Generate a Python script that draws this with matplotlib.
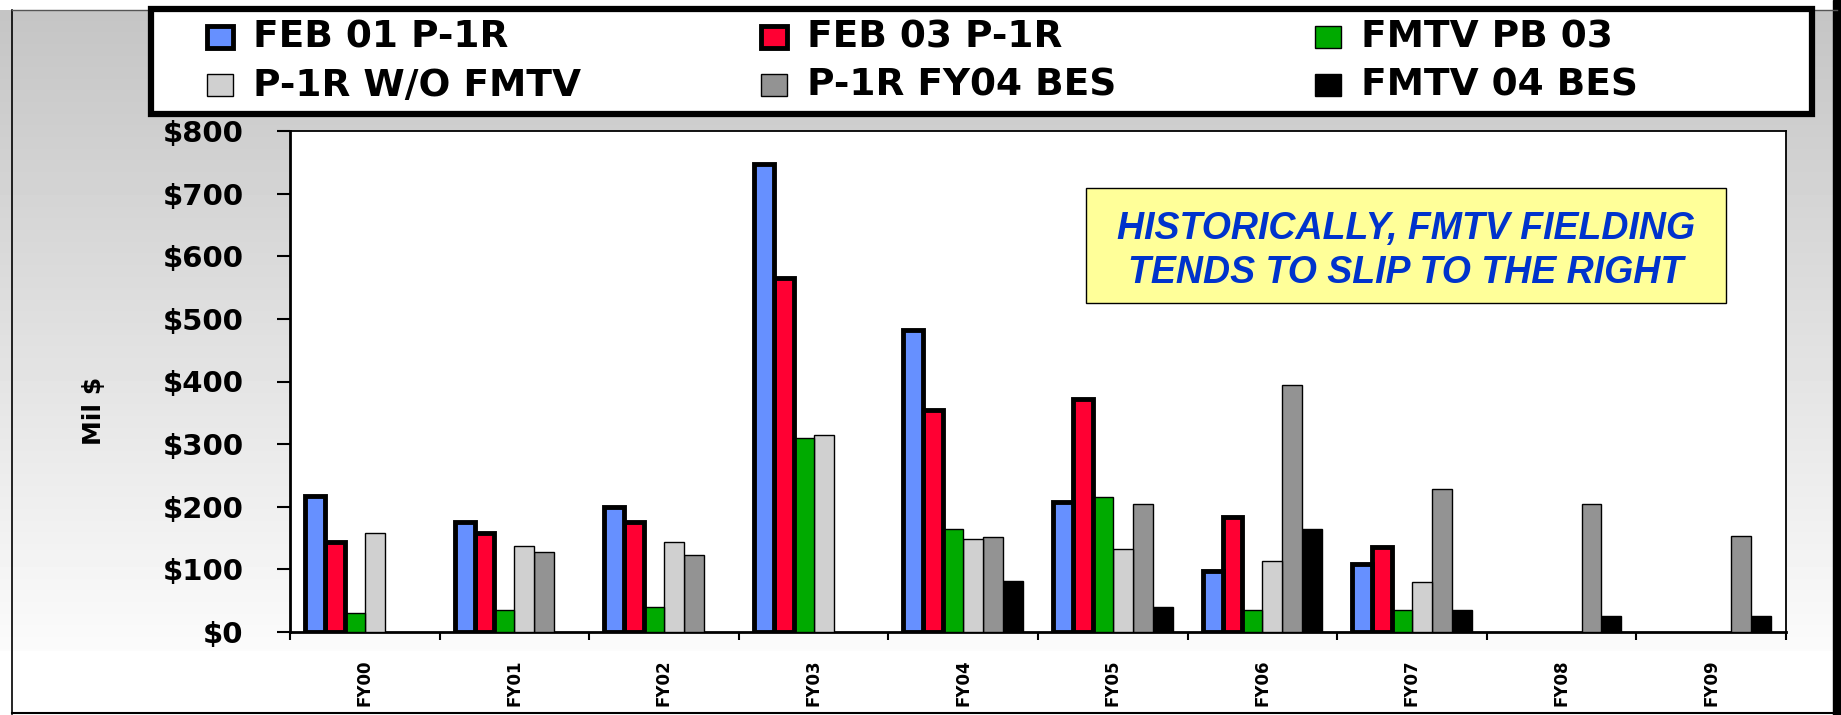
import numpy as np
import matplotlib
matplotlib.use("Agg")
import matplotlib.pyplot as plt
from matplotlib.patches import Rectangle

# data ($ millions); nan = no bar drawn
nan = np.nan
years = ["FY00", "FY01", "FY02", "FY03", "FY04", "FY05", "FY06", "FY07", "FY08", "FY09"]
series_names = ["FEB 01 P-1R", "FEB 03 P-1R", "FMTV PB 03",
                "P-1R W/O FMTV", "P-1R FY04 BES", "FMTV 04 BES"]
feb01_p1r = [217, 175, 200, 748, 482, 207, 98, 108, nan, nan]
feb03_p1r = [143, 158, 175, 565, 355, 372, 183, 135, nan, nan]
fmtv_pb03 = [30, 35, 40, 310, 165, 215, 35, 35, nan, nan]
p1r_wo_fmtv = [158, 138, 143, 315, 148, 132, 113, 80, nan, nan]
p1r_fy04_bes = [nan, 127, 123, nan, 152, 205, 395, 228, 205, 153]
fmtv04_bes = [nan, nan, nan, nan, 82, 40, 165, 35, 25, 25]
y_ticks = [0, 100, 200, 300, 400, 500, 600, 700, 800]

colors = ["#6690FF", "#FF0033", "#00AA00", "#D0D0D0", "#939393", "#000000"]
edge_w = [3.5, 3.5, 1.0, 1.0, 1.0, 1.0]
all_series = [feb01_p1r, feb03_p1r, fmtv_pb03, p1r_wo_fmtv, p1r_fy04_bes, fmtv04_bes]

W, H = 1841, 715
fig = plt.figure(figsize=(W / 100, H / 100), dpi=100)

def fx(px):
    return px / W

def fy(py):
    return 1 - py / H

# gray-to-white background
bg = fig.add_axes([0, 0, 1, 1], zorder=-10)
grad = np.linspace(0.77, 0.985, 641)
col = np.concatenate([np.full(10, 1.0), grad, np.ones(H - 641 - 10)])
bg.imshow(np.repeat(col[:, None], 4, axis=1), cmap="gray", vmin=0, vmax=1,
          aspect="auto", extent=[0, 1, 0, 1])
bg.set_axis_off()

# outer frame
fig.add_artist(plt.Line2D([fx(12), fx(12)], [fy(10), fy(714)], color="black", lw=1.2))
fig.add_artist(plt.Line2D([fx(12), fx(1837)], [fy(10), fy(10)], color="#555555", lw=1))
fig.add_artist(plt.Line2D([fx(12), fx(1837)], [fy(713), fy(713)], color="black", lw=1.5))
fig.add_artist(Rectangle((fx(1833), 0), fx(8), 1, color="black"))

# main axes
ax = fig.add_axes([fx(290), fy(632), fx(1786) - fx(290), fy(131) - fy(632)])
ax.set_facecolor("white")

x = np.arange(len(years))
w = 0.8 / 6
for j, vals in enumerate(all_series):
    ax.bar(x + (j - 2.5) * w, vals, width=w, color=colors[j],
           edgecolor="black", linewidth=edge_w[j], zorder=10 - j)

ax.set_xlim(-0.5, len(years) - 0.5)
ax.set_ylim(0, 800)
ax.set_yticks(y_ticks)
ax.set_yticklabels([f"${v}" for v in y_ticks], fontsize=21, fontweight="bold")
ax.tick_params(axis="y", direction="out", length=9.5, width=1.5, pad=24)

ax.set_xticks(np.arange(len(years) + 1) - 0.5)
ax.set_xticklabels([])
ax.tick_params(axis="x", which="major", direction="out", length=6, width=1.5)
ax.set_xticks(x, minor=True)
ax.set_xticklabels(years, minor=True, rotation=90, fontsize=12, fontweight="bold")
ax.tick_params(axis="x", which="minor", length=0, pad=20)

for side in ["left", "bottom"]:
    ax.spines[side].set_linewidth(2)
for side in ["top", "right"]:
    ax.spines[side].set_linewidth(1.3)

fig.text(fx(94), fy(411), "Mil $", rotation=90, fontsize=18, fontweight="bold",
         ha="center", va="center")

# annotation box
fig.add_artist(Rectangle((fx(1086), fy(303)), fx(1726) - fx(1086), fy(188) - fy(303),
                         facecolor="#FFFF99", edgecolor="black", lw=1, zorder=5))
fig.text(fx(1406), fy(251), "HISTORICALLY, FMTV FIELDING\nTENDS TO SLIP TO THE RIGHT",
         ha="center", va="center", fontsize=27, fontweight="bold", style="italic",
         family="Liberation Sans", color="#0033CC", linespacing=1.3, zorder=6)

# legend box, drawn by hand to match the layout
fig.add_artist(Rectangle((fx(151), fy(114)), fx(1812) - fx(151), fy(9) - fy(114),
                         facecolor="white", edgecolor="black", lw=4.5, zorder=5))
col_x = [207, 761, 1315]
row_y = [37, 85]
for j, name in enumerate(series_names):
    cx = col_x[j % 3]
    cy = row_y[j // 3]
    fig.add_artist(Rectangle((fx(cx), fy(cy + 11)), fx(26), 22 / H,
                             facecolor=colors[j], edgecolor="black",
                             lw=edge_w[j], zorder=6))
    fig.text(fx(cx + 46), fy(cy + 1), name, fontsize=27, fontweight="bold",
             ha="left", va="center", zorder=6)

fig.savefig("out.png", dpi=100)
